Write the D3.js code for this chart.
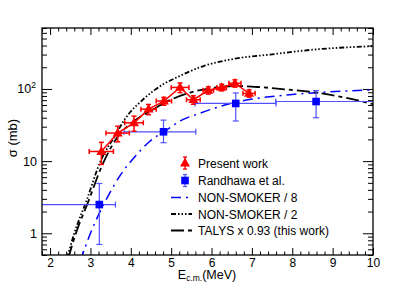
<!DOCTYPE html>
<html>
<head>
<meta charset="utf-8">
<script src="https://cdn.jsdelivr.net/npm/d3@7/dist/d3.min.js"></script>
<style>
    body { margin: 0; background: #fff; }
    svg text { font-family: "Liberation Sans", Arial, Helvetica, sans-serif; }
</style>
</head>
<body>
<div id="crossSection"></div>
<script>
// present work (red triangles)
var presentE = [3.27, 3.675, 4.08, 4.44, 4.82, 5.22, 5.55, 5.92, 6.25, 6.58, 6.93];
var presentSigma = [13.6, 24.5, 34, 52.5, 68, 105, 71, 96, 105, 120, 87];
var presentSigmaErr = [4.6, 6, 8, 8.5, 8.5, 16, 9.5, 11, 11, 14, 10];
var presentEErr = [0.3, 0.29, 0.23, 0.19, 0.19, 0.22, 0.17, 0.13, 0.12, 0.15, 0.15];

// Randhawa et al. (blue squares)
var randE = [3.22, 4.81, 6.6, 8.59];
var randSigma = [2.5, 25.5, 63, 67];
var randELo = [1.6, 0.98, 1.01, 1.0];
var randEHi = [0.4, 0.8, 1.0, 1.5];
var randSigmaLo = [1.8, 7.5, 27, 27];
var randSigmaHi = [2.4, 11.5, 25, 28];

// NON-SMOKER / 8
var nsEightE = [2.75, 2.8, 3.0, 3.4, 3.75, 4.1, 4.48, 4.89, 5.22, 5.71, 6.2, 6.62, 7.2, 8.0, 8.6, 9.4, 10];
var nsEightSigma = [0.42, 0.5, 1.0, 3.0, 6.5, 11.5, 19, 27, 36, 46, 57, 66, 75, 84, 89, 94, 97];

// NON-SMOKER / 2
var nsTwoE = [2.42, 2.6, 2.9, 3.25, 3.6, 3.85, 4.31, 4.8, 5.14, 5.8, 6.62, 7.45, 8.5, 10];
var nsTwoSigma = [0.45, 1.0, 2.8, 10, 22, 38, 72, 116, 145, 208, 265, 300, 350, 392];

// TALYS x 0.93
var talysE = [2.45, 2.64, 2.93, 3.3, 3.68, 4.05, 4.5, 4.97, 5.47, 5.96, 6.6, 7.2, 7.8, 8.6, 9.3, 10];
var talysSigma = [0.45, 1.0, 2.6, 9, 22, 35, 50, 70, 89, 102, 110, 106, 99, 89, 76, 61.5];

var xMajor = [2, 3, 4, 5, 6, 7, 8, 9, 10];
var yMajor = [1, 10, 100];
var yLabels = ["1", "10", "10|2"];

var legendLabels = ["Present work", "Randhawa et al.", "NON-SMOKER / 8", "NON-SMOKER / 2", "TALYS x 0.93 (this work)"];

var width = 415, height = 283;
var frame = {left: 42, right: 373, top: 28, bottom: 255};

var svg = d3.select("#crossSection").append("svg")
    .attr("width", width).attr("height", height);

var x = d3.scaleLinear().domain([1.8, 10]).range([frame.left, frame.right]);
var y = d3.scaleLog().domain([0.5, 700]).range([frame.bottom, frame.top]);

svg.append("clipPath").attr("id", "frameClip").append("rect")
    .attr("x", frame.left).attr("y", frame.top)
    .attr("width", frame.right - frame.left).attr("height", frame.bottom - frame.top);

/**
 * minor tick values on the axes
 */
var xMinor = d3.range(18, 101, 2).map(function (v) { return v / 10; })
    .filter(function (v) { return xMajor.indexOf(v) < 0; });
var yMinor = [];
[0.1, 1, 10, 100].forEach(function (decade) {
    d3.range(2, 10).forEach(function (m) {
        var v = decade * m;
        if (v >= 0.5 && v <= 700) yMinor.push(v);
    });
});

var drawTicks = function (axis, cls, translate) {
    var g = svg.append("g").attr("class", cls).attr("transform", translate).call(axis);
    g.select(".domain").remove();
    g.selectAll(".tick line").attr("stroke", "#000").attr("stroke-width", 1);
    return g;
};

// bottom axis
var bottom = drawTicks(d3.axisBottom(x).tickValues(xMajor).tickSizeInner(-7).tickSizeOuter(0)
    .tickPadding(3).tickFormat(d3.format("d")), "xaxis", "translate(0," + frame.bottom + ")");
bottom.selectAll(".tick text").attr("font-size", 12).attr("fill", "#000");
drawTicks(d3.axisBottom(x).tickValues(xMinor).tickSizeInner(-3.5).tickSizeOuter(0).tickFormat(""),
    "xminor", "translate(0," + frame.bottom + ")");
// top axis
drawTicks(d3.axisTop(x).tickValues(xMajor).tickSizeInner(-7).tickSizeOuter(0).tickFormat(""),
    "xtop", "translate(0," + frame.top + ")");
drawTicks(d3.axisTop(x).tickValues(xMinor).tickSizeInner(-3.5).tickSizeOuter(0).tickFormat(""),
    "xtopminor", "translate(0," + frame.top + ")");
// left axis
drawTicks(d3.axisLeft(y).tickValues(yMajor).tickSizeInner(-10).tickSizeOuter(0).tickFormat(""),
    "yaxis", "translate(" + frame.left + ",0)");
drawTicks(d3.axisLeft(y).tickValues(yMinor).tickSizeInner(-5).tickSizeOuter(0).tickFormat(""),
    "yminor", "translate(" + frame.left + ",0)");
// right axis
drawTicks(d3.axisRight(y).tickValues(yMajor).tickSizeInner(-10).tickSizeOuter(0).tickFormat(""),
    "yright", "translate(" + frame.right + ",0)");
drawTicks(d3.axisRight(y).tickValues(yMinor).tickSizeInner(-5).tickSizeOuter(0).tickFormat(""),
    "yrightminor", "translate(" + frame.right + ",0)");

// y labels, with superscript for 10^2
yMajor.forEach(function (v, i) {
    var parts = yLabels[i].split("|");
    var t = svg.append("text")
        .attr("x", 37).attr("y", y(v) + 4.5)
        .attr("text-anchor", "end").attr("font-size", 12.5)
        .text(parts[0]);
    if (parts[1]) {
        t.attr("x", 36);
        t.append("tspan").attr("dy", -5).attr("font-size", 8.5).text(parts[1]);
    }
});

// axis titles
var xt = svg.append("text").attr("x", 207).attr("y", 279)
    .attr("text-anchor", "middle").attr("font-size", 12.5);
xt.append("tspan").text("E");
xt.append("tspan").attr("dy", 2).attr("font-size", 8.5).text("c.m.");
xt.append("tspan").attr("dy", -2).text("(MeV)");

svg.append("text").attr("transform", "translate(17,138) rotate(-90)")
    .attr("text-anchor", "middle").attr("font-size", 13)
    .text("\u03c3 (mb)");

/**
 * theory curves
 */
var curveStyles = [
    {e: nsEightE, s: nsEightSigma, color: "#0000ff", width: 1.5, dash: "10,5,2,5"},
    {e: nsTwoE, s: nsTwoSigma, color: "#000", width: 1.8, dash: "5,2,1.5,2,1.5,2,1.5,2"},
    {e: talysE, s: talysSigma, color: "#000", width: 1.8, dash: "13,4,4,4"}
];

var plot = svg.append("g").attr("clip-path", "url(#frameClip)");

var line = d3.line()
    .x(function (d) { return x(d[0]); })
    .y(function (d) { return y(d[1]); })
    .curve(d3.curveMonotoneX);

curveStyles.forEach(function (c) {
    plot.append("path")
        .datum(d3.zip(c.e, c.s))
        .attr("fill", "none")
        .attr("stroke", c.color)
        .attr("stroke-width", c.width)
        .attr("stroke-dasharray", c.dash)
        .attr("d", line);
});

/**
 * error bars with small end caps
 */
var errorBar = function (g, cx, cy, x0, x1, y0, y1, color, w, cap) {
    g.append("line").attr("x1", x0).attr("x2", x1).attr("y1", cy).attr("y2", cy);
    g.append("line").attr("x1", cx).attr("x2", cx).attr("y1", y0).attr("y2", y1);
    [x0, x1].forEach(function (xx) {
        g.append("line").attr("x1", xx).attr("x2", xx).attr("y1", cy - cap).attr("y2", cy + cap);
    });
    [y0, y1].forEach(function (yy) {
        g.append("line").attr("x1", cx - cap).attr("x2", cx + cap).attr("y1", yy).attr("y2", yy);
    });
    g.selectAll("line").attr("stroke", color).attr("stroke-width", w);
};

// Randhawa
randE.forEach(function (e, i) {
    var g = plot.append("g");
    errorBar(g, x(e), y(randSigma[i]),
        x(e - randELo[i]), x(e + randEHi[i]),
        y(randSigma[i] + randSigmaHi[i]), y(randSigma[i] - randSigmaLo[i]),
        "#5050ff", 1.2, 3);
    g.append("rect")
        .attr("x", x(e) - 3.8).attr("y", y(randSigma[i]) - 3.8)
        .attr("width", 7.6).attr("height", 7.6).attr("fill", "#0000ff");
});

// present work
plot.append("path")
    .datum(d3.zip(presentE, presentSigma))
    .attr("fill", "none").attr("stroke", "#ff0000").attr("stroke-width", 1.5)
    .attr("d", d3.line().x(function (d) { return x(d[0]); }).y(function (d) { return y(d[1]); }));

var triangle = d3.symbol().type(d3.symbolTriangle).size(44);

presentE.forEach(function (e, i) {
    var g = plot.append("g");
    errorBar(g, x(e), y(presentSigma[i]),
        x(e - presentEErr[i]), x(e + presentEErr[i]),
        y(presentSigma[i] + presentSigmaErr[i]), y(presentSigma[i] - presentSigmaErr[i]),
        "#ff0000", 1.5, 2.5);
    g.append("path").attr("d", triangle)
        .attr("transform", "translate(" + x(e) + "," + (y(presentSigma[i]) + 0.5) + ")")
        .attr("fill", "#ff0000");
});

// frame
svg.append("rect")
    .attr("x", frame.left).attr("y", frame.top)
    .attr("width", frame.right - frame.left).attr("height", frame.bottom - frame.top)
    .attr("fill", "none").attr("stroke", "#000").attr("stroke-width", 1.3);

/**
 * legend
 */
var legend = svg.append("g");
var rowY = [163, 180.5, 197.5, 214, 230.5];

legendLabels.forEach(function (label, i) {
    var ly = rowY[i];
    var g = legend.append("g");
    if (i === 0) {
        g.append("line").attr("x1", 185).attr("x2", 185).attr("y1", ly - 6).attr("y2", ly + 6);
        g.append("line").attr("x1", 183).attr("x2", 187).attr("y1", ly - 6).attr("y2", ly - 6);
        g.append("line").attr("x1", 183).attr("x2", 187).attr("y1", ly + 6).attr("y2", ly + 6);
        g.selectAll("line").attr("stroke", "#ff0000").attr("stroke-width", 1.3);
        g.append("path").attr("d", triangle)
            .attr("transform", "translate(185," + (ly + 0.5) + ")").attr("fill", "#ff0000");
    } else if (i === 1) {
        g.append("line").attr("x1", 185).attr("x2", 185).attr("y1", ly - 6).attr("y2", ly + 6);
        g.append("line").attr("x1", 183).attr("x2", 187).attr("y1", ly - 6).attr("y2", ly - 6);
        g.append("line").attr("x1", 183).attr("x2", 187).attr("y1", ly + 6).attr("y2", ly + 6);
        g.selectAll("line").attr("stroke", "#5050ff").attr("stroke-width", 1.2);
        g.append("rect").attr("x", 181.2).attr("y", ly - 3.8)
            .attr("width", 7.6).attr("height", 7.6).attr("fill", "#0000ff");
    } else {
        var c = curveStyles[i - 2];
        g.append("line").attr("x1", 171).attr("x2", 192).attr("y1", ly).attr("y2", ly)
            .attr("stroke", c.color).attr("stroke-width", c.width)
            .attr("stroke-dasharray", c.dash);
    }
    g.append("text").attr("x", 198).attr("y", ly + 4.5)
        .attr("font-size", 12).text(label);
});
</script>
</body>
</html>
